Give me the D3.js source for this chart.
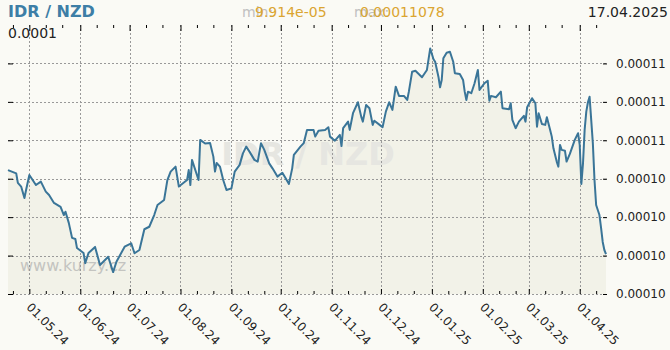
<!DOCTYPE html>
<html>
<head>
<meta charset="utf-8">
<script src="https://cdn.jsdelivr.net/npm/d3@7"></script>
<style>
  body { margin: 0; background: #fafaf5; }
  svg { display: block; font-family: "DejaVu Sans", Verdana, sans-serif; }
</style>
</head>
<body>
<div class="chart"></div>
<script>
// IDR / NZD - one year of daily rates

// DATA --------------------------------
const dates = [
  "2024-04-18","2024-04-23","2024-04-24","2024-04-26","2024-04-28","2024-04-29","2024-05-01","2024-05-05",
  "2024-05-08","2024-05-11","2024-05-13","2024-05-16","2024-05-20","2024-05-22","2024-05-23","2024-05-25",
  "2024-05-27","2024-05-29","2024-05-30","2024-06-03","2024-06-04","2024-06-06","2024-06-10","2024-06-13",
  "2024-06-15","2024-06-18","2024-06-21","2024-06-23","2024-06-28","2024-07-02","2024-07-04","2024-07-07",
  "2024-07-10","2024-07-13","2024-07-16","2024-07-18","2024-07-22","2024-07-24","2024-07-26","2024-07-29",
  "2024-07-31","2024-08-05","2024-08-06","2024-08-07","2024-08-08","2024-08-11","2024-08-12","2024-08-13",
  "2024-08-16","2024-08-19","2024-08-21","2024-08-22","2024-08-23","2024-08-25","2024-08-27","2024-08-29",
  "2024-09-01","2024-09-03","2024-09-06","2024-09-08","2024-09-10","2024-09-12","2024-09-15","2024-09-17",
  "2024-09-19","2024-09-21","2024-09-24","2024-09-26","2024-09-29","2024-10-02","2024-10-04","2024-10-06",
  "2024-10-08","2024-10-09","2024-10-13","2024-10-15","2024-10-17","2024-10-21","2024-10-22","2024-10-24",
  "2024-10-28","2024-10-30","2024-10-31","2024-11-03","2024-11-06","2024-11-07","2024-11-08","2024-11-11",
  "2024-11-12","2024-11-14","2024-11-17","2024-11-19","2024-11-20","2024-11-22","2024-11-24","2024-11-26",
  "2024-11-27","2024-12-01","2024-12-02","2024-12-04","2024-12-06","2024-12-08","2024-12-10","2024-12-12",
  "2024-12-15","2024-12-17","2024-12-18","2024-12-20","2024-12-22","2024-12-26","2024-12-29","2024-12-31",
  "2025-01-02","2025-01-03","2025-01-05","2025-01-06","2025-01-07","2025-01-08","2025-01-10","2025-01-12",
  "2025-01-14","2025-01-15","2025-01-18","2025-01-20","2025-01-21","2025-01-22","2025-01-23","2025-01-25",
  "2025-01-27","2025-01-29","2025-01-30","2025-02-02","2025-02-04","2025-02-05","2025-02-06","2025-02-09",
  "2025-02-12","2025-02-13","2025-02-17","2025-02-18","2025-02-19","2025-02-21","2025-02-23","2025-02-26",
  "2025-02-27","2025-02-28","2025-03-03","2025-03-05","2025-03-06","2025-03-07","2025-03-09","2025-03-11",
  "2025-03-12","2025-03-14","2025-03-15","2025-03-16","2025-03-18","2025-03-19","2025-03-20","2025-03-21",
  "2025-03-23","2025-03-24","2025-03-26","2025-03-29","2025-03-31","2025-04-01","2025-04-02","2025-04-03",
  "2025-04-04","2025-04-05","2025-04-06","2025-04-07","2025-04-08","2025-04-09","2025-04-10","2025-04-11",
  "2025-04-12","2025-04-13","2025-04-14","2025-04-15","2025-04-16","2025-04-17"
];

const rates = [
  0.00010445,0.00010428,0.00010378,0.00010359,0.00010300,0.00010341,0.00010419,0.00010367,
  0.00010385,0.00010333,0.00010315,0.00010274,0.00010253,0.00010211,0.00010228,0.00010170,
  0.00010092,0.00010086,0.00010039,0.00010013,0.00009961,0.00010013,0.00010045,0.00009951,
  0.00009968,0.00009994,0.00009914,0.00009968,0.00010046,0.00010064,0.00010012,0.00010029,
  0.00010137,0.00010150,0.00010211,0.00010263,0.00010289,0.00010393,0.00010437,0.00010463,
  0.00010359,0.00010393,0.00010445,0.00010367,0.00010498,0.00010419,0.00010393,0.00010602,
  0.00010583,0.00010586,0.00010515,0.00010437,0.00010482,0.00010463,0.00010393,0.00010341,
  0.00010350,0.00010437,0.00010472,0.00010532,0.00010567,0.00010541,0.00010498,0.00010489,
  0.00010585,0.00010550,0.00010480,0.00010454,0.00010411,0.00010431,0.00010402,0.00010373,
  0.00010454,0.00010524,0.00010567,0.00010585,0.00010654,0.00010654,0.00010619,0.00010650,
  0.00010654,0.00010668,0.00010619,0.00010598,0.00010628,0.00010570,0.00010663,0.00010697,
  0.00010654,0.00010741,0.00010798,0.00010723,0.00010697,0.00010784,0.00010767,0.00010680,
  0.00010702,0.00010675,0.00010668,0.00010749,0.00010798,0.00010758,0.00010879,0.00010831,
  0.00010831,0.00010810,0.00010853,0.00010957,0.00010962,0.00010928,0.00010966,0.00011078,
  0.00011022,0.00011009,0.00010931,0.00010876,0.00010914,0.00011027,0.00011056,0.00011061,
  0.00011009,0.00010949,0.00010945,0.00010914,0.00010853,0.00010810,0.00010853,0.00010845,
  0.00010897,0.00010966,0.00010862,0.00010897,0.00010910,0.00010806,0.00010831,0.00010824,
  0.00010853,0.00010767,0.00010761,0.00010793,0.00010706,0.00010663,0.00010697,0.00010727,
  0.00010697,0.00010772,0.00010819,0.00010793,0.00010671,0.00010741,0.00010685,0.00010680,
  0.00010720,0.00010654,0.00010619,0.00010558,0.00010489,0.00010463,0.00010576,0.00010550,
  0.00010546,0.00010489,0.00010529,0.00010602,0.00010637,0.00010576,0.00010373,0.00010480,
  0.00010654,0.00010749,0.00010798,0.00010827,0.00010706,0.00010584,0.00010393,0.00010263,
  0.00010237,0.00010211,0.00010144,0.00010071,0.00010029,0.00010008
];

const yTicks = [0.000098, 0.000100, 0.000102, 0.000104, 0.000106, 0.000108, 0.000110];
const monthTicks = [
  "2024-05-01","2024-06-01","2024-07-01","2024-08-01","2024-09-01","2024-10-01",
  "2024-11-01","2024-12-01","2025-01-01","2025-02-01","2025-03-01","2025-04-01"
];
const pairName = "IDR / NZD";
const minText = "9.914e-05";
const maxText = "0.00011078";
const lastDate = "17.04.2025";
const topLabel = "0.0001";
const watermark = "www.kurzy.cz";

// CHART INIT -----------------------------
const W = 670, H = 350;
const plot = {left: 8, right: 606, top: 25, bottom: 294};

const parse = d3.timeParse("%Y-%m-%d");
const data = dates.map((d, i) => ({date: parse(d), rate: rates[i]}));
const months = monthTicks.map(parse);

const svg = d3.select(".chart")
  .append("svg")
  .attr("width", W)
  .attr("height", H);

svg.append("rect")
  .attr("width", W).attr("height", H)
  .attr("fill", "#fafaf5");

const xScale = d3.scaleTime()
  .domain([parse("2024-04-18"), parse("2025-04-17")])
  .range([plot.left, plot.right]);

const yScale = d3.scaleLinear()
  .domain([0.000098, 0.000112])
  .range([plot.bottom, plot.top]);

// area under the line
const area = d3.area()
  .x(d => xScale(d.date))
  .y0(plot.bottom)
  .y1(d => yScale(d.rate));

svg.append("path")
  .datum(data)
  .attr("d", area)
  .attr("fill", "#f2f2e8");

// watermarks
svg.append("text")
  .attr("x", 308).attr("y", 165)
  .attr("text-anchor", "middle")
  .attr("font-size", 32)
  .attr("font-weight", "bold")
  .attr("fill", "#e6e6e1")
  .text(pairName);

svg.append("text")
  .attr("x", 20).attr("y", 271)
  .attr("font-size", 16)
  .attr("fill", "#c4c4c0")
  .text(watermark);

// grid
svg.append("g")
  .selectAll("line")
  .data(yTicks)
  .join("line")
  .attr("x1", plot.left).attr("x2", plot.right)
  .attr("y1", d => Math.round(yScale(d)) + 0.5)
  .attr("y2", d => Math.round(yScale(d)) + 0.5)
  .attr("stroke", "#999")
  .attr("stroke-dasharray", "2,2");

svg.append("g")
  .selectAll("line")
  .data(months)
  .join("line")
  .attr("x1", d => Math.round(xScale(d)) + 0.5)
  .attr("x2", d => Math.round(xScale(d)) + 0.5)
  .attr("y1", plot.top).attr("y2", plot.bottom)
  .attr("stroke", "#999")
  .attr("stroke-dasharray", "2,2");

// rate line
const line = d3.line()
  .x(d => xScale(d.date))
  .y(d => yScale(d.rate));

svg.append("path")
  .datum(data)
  .attr("d", line)
  .attr("fill", "none")
  .attr("stroke", "#3a7598")
  .attr("stroke-width", 2)
  .attr("stroke-linejoin", "round");

// AXES --------------------------------
const minorDays = d3.timeDays(xScale.domain()[0], xScale.domain()[1])
  .filter(d => [11, 21].includes(d.getDate()));

function styleAxis(g) {
  g.select(".domain").remove();
  g.attr("font-family", null).attr("font-size", null);
  g.selectAll("line").attr("stroke", "#000");
}

// top: short ticks
svg.append("g")
  .attr("transform", `translate(0,${plot.top})`)
  .call(d3.axisTop(xScale).tickValues(minorDays).tickSize(-3).tickFormat(""))
  .call(styleAxis);
svg.append("g")
  .attr("transform", `translate(0,${plot.top})`)
  .call(d3.axisTop(xScale).tickValues(months).tickSize(-6).tickFormat(""))
  .call(styleAxis);

// bottom: short ticks + rotated date labels
svg.append("g")
  .attr("transform", `translate(0,${plot.bottom})`)
  .call(d3.axisBottom(xScale).tickValues(minorDays).tickSize(-3).tickFormat(""))
  .call(styleAxis);

const xAxis = d3.axisBottom(xScale)
  .tickValues(months)
  .tickSize(-5)
  .tickFormat(d3.timeFormat("%d.%m.%y"));

svg.append("g")
  .attr("transform", `translate(0,${plot.bottom})`)
  .call(xAxis)
  .call(styleAxis)
  .selectAll("text")
  .attr("x", null).attr("y", null).attr("dy", null)
  .attr("text-anchor", "start")
  .attr("transform", "translate(-4,14) rotate(45)")
  .attr("font-size", 12)
  .attr("fill", "#222");

// left: ticks only
svg.append("g")
  .attr("transform", `translate(${plot.left},0)`)
  .call(d3.axisLeft(yScale).tickValues(yTicks).tickSize(-5).tickFormat(""))
  .call(styleAxis);

// right: ticks + labels
svg.append("g")
  .attr("transform", `translate(${plot.right + 1},0)`)
  .call(d3.axisRight(yScale).tickValues(yTicks).tickSize(-4).tickPadding(9)
    .tickFormat(d => d.toFixed(5)))
  .call(styleAxis)
  .selectAll("text")
  .attr("font-size", 12)
  .attr("fill", "#222");

// HEADER TEXTS ------------------------
svg.append("text")
  .attr("x", 8).attr("y", 17)
  .attr("font-size", 16)
  .attr("font-weight", "bold")
  .attr("fill", "#3d7ea6")
  .text(pairName);

svg.append("text")
  .attr("x", 8).attr("y", 38)
  .attr("font-size", 14)
  .attr("fill", "#222")
  .text(topLabel);

svg.append("text")
  .attr("x", 242).attr("y", 17)
  .attr("font-size", 14)
  .attr("fill", "#c0c0c0")
  .text("min:");
svg.append("text")
  .attr("x", 255).attr("y", 17)
  .attr("font-size", 14)
  .attr("fill", "#dba531")
  .text(minText);

svg.append("text")
  .attr("x", 354).attr("y", 17)
  .attr("font-size", 14)
  .attr("fill", "#c0c0c0")
  .text("max:");
svg.append("text")
  .attr("x", 360).attr("y", 17)
  .attr("font-size", 14)
  .attr("fill", "#dba531")
  .text(maxText);

svg.append("text")
  .attr("x", 668).attr("y", 17)
  .attr("text-anchor", "end")
  .attr("font-size", 14)
  .attr("fill", "#222")
  .text(lastDate);
</script>
</body>
</html>
